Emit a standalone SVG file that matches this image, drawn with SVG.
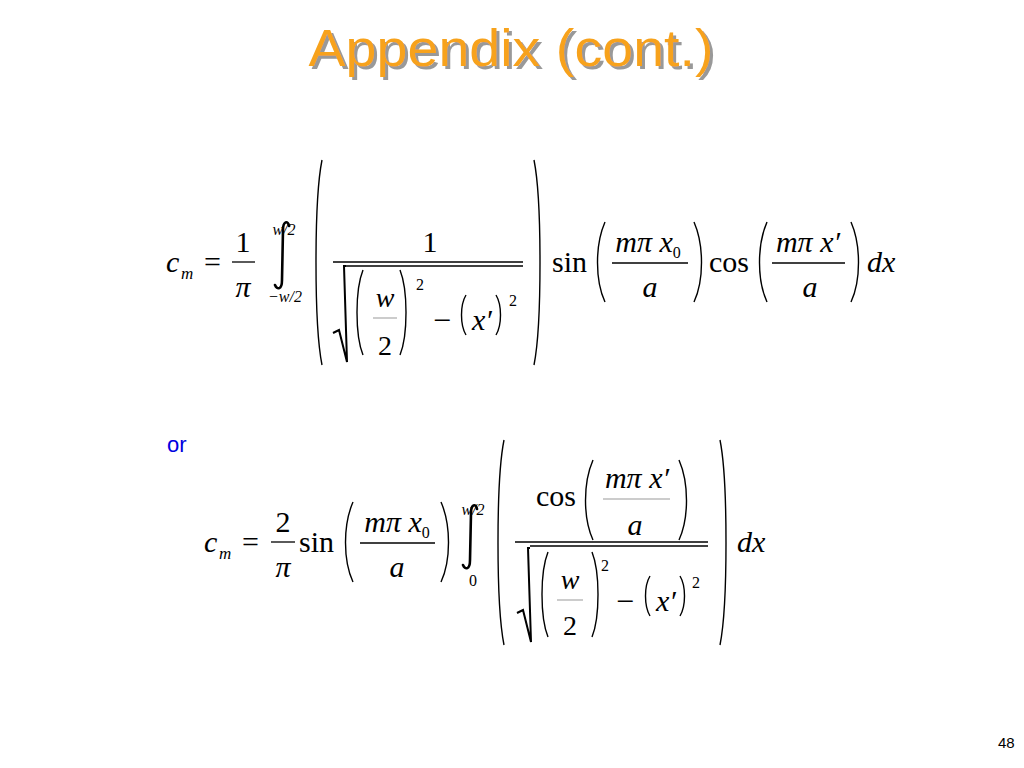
<svg xmlns="http://www.w3.org/2000/svg" width="1024" height="768" viewBox="0 0 1024 768">
<defs>
<filter id="sh" x="-5%" y="-20%" width="110%" height="140%"><feDropShadow dx="3" dy="3" stdDeviation="0.5" flood-color="#999" flood-opacity="1"/></filter>
</defs>
<style>
.m{font-family:"Liberation Serif",serif;fill:#000}
.i{font-style:italic}
.p{fill:none;stroke:#000;stroke-width:1.4}
.l{stroke:#000;stroke-width:1.3}
.int{fill:none;stroke:#000;stroke-width:2.6;stroke-linecap:round}
</style>
<rect width="1024" height="768" fill="#fff"/>
<g id="title">
<text x="511" y="66" text-anchor="middle" font-family="Liberation Sans,sans-serif" font-size="52" fill="#F7A21B" filter="url(#sh)" textLength="405" lengthAdjust="spacingAndGlyphs">Appendix (cont.)</text>
</g>
<g id="eq1">
<text class="m i" x="166" y="272" font-size="30">c</text>
<text class="m i" x="181" y="279" font-size="17">m</text>
<text class="m" x="204" y="272" font-size="30">=</text>
<text class="m" x="243" y="252" font-size="30" text-anchor="middle">1</text>
<line class="l" x1="232" y1="262" x2="255" y2="262"/>
<text class="m i" x="243" y="297" font-size="30" text-anchor="middle">π</text>
<path class="int" d="M289 226 C288 220 283 221 283 230 L282 280 C282 290 277 290 275 285"/>
<text class="m i" x="284" y="235" font-size="16" text-anchor="middle">w/2</text>
<text class="m i" x="285" y="302" font-size="16" text-anchor="middle">−w/2</text>
<path class="p" d="M322 160 C314 200 314 325 322 365"/>
<path class="p" d="M534 160 C542 200 542 325 534 365"/>
<text class="m" x="430" y="252" font-size="30" text-anchor="middle">1</text>
<line class="l" x1="333" y1="262" x2="523" y2="262"/>
<line class="l" x1="345" y1="266" x2="523" y2="266"/>
<path d="M333 333 L339 330 L347 362 L344 266 L346 266" fill="none" stroke="#000" stroke-width="2"/>
<path class="p" d="M363 270 C355 290 355 335 363 355"/>
<path class="p" d="M400 270 C408 290 408 335 400 355"/>
<text class="m i" x="385" y="307" font-size="28" text-anchor="middle">w</text>
<line x1="373" y1="318" x2="397" y2="318" stroke="#999" stroke-width="1"/>
<text class="m" x="385" y="355" font-size="28" text-anchor="middle">2</text>
<text class="m" x="416" y="290" font-size="16">2</text>
<text class="m" x="433" y="331" font-size="32">−</text>
<path class="p" d="M466 295 C460 305 460 325 466 335"/>
<text class="m i" x="472" y="330" font-size="30">x′</text>
<path class="p" d="M496 295 C502 305 502 325 496 335"/>
<text class="m" x="509" y="306" font-size="16">2</text>
<text class="m" x="552" y="272" font-size="30">sin</text>
<path class="p" d="M605 222 C595 245 595 280 605 302"/>
<text class="m i" x="648" y="252" font-size="30" text-anchor="middle">mπ x<tspan font-size="16" dy="6" font-style="normal">0</tspan></text>
<line class="l" x1="612" y1="263" x2="688" y2="263"/>
<text class="m i" x="650" y="297" font-size="30" text-anchor="middle">a</text>
<path class="p" d="M694 222 C704 245 704 280 694 302"/>
<text class="m" x="709" y="272" font-size="30">cos</text>
<path class="p" d="M767 222 C757 245 757 280 767 302"/>
<text class="m i" x="808" y="252" font-size="30" text-anchor="middle">mπ x′</text>
<line class="l" x1="772" y1="263" x2="845" y2="263"/>
<text class="m i" x="810" y="297" font-size="30" text-anchor="middle">a</text>
<path class="p" d="M851 222 C861 245 861 280 851 302"/>
<text class="m i" x="867" y="272" font-size="30">dx</text>
</g>
<g id="or"><text x="167" y="452" font-family="Liberation Sans,sans-serif" font-size="22" fill="#0000E0">or</text></g>
<g id="eq2">
<text class="m i" x="204" y="552" font-size="30">c</text>
<text class="m i" x="219" y="559" font-size="17">m</text>
<text class="m" x="242" y="552" font-size="30">=</text>
<text class="m" x="283" y="532" font-size="30" text-anchor="middle">2</text>
<line class="l" x1="271" y1="542" x2="295" y2="542"/>
<text class="m i" x="283" y="577" font-size="30" text-anchor="middle">π</text>
<text class="m" x="299" y="552" font-size="30">sin</text>
<path class="p" d="M353 502 C343 525 343 560 353 582"/>
<text class="m i" x="397" y="532" font-size="30" text-anchor="middle">mπ x<tspan font-size="16" dy="6" font-style="normal">0</tspan></text>
<line class="l" x1="360" y1="543" x2="435" y2="543"/>
<text class="m i" x="397" y="577" font-size="30" text-anchor="middle">a</text>
<path class="p" d="M441 502 C451 525 451 560 441 582"/>
<path class="int" d="M477 509 C476 503 471 504 471 513 L470 560 C470 570 465 570 463 565"/>
<text class="m i" x="473" y="515" font-size="16" text-anchor="middle">w/2</text>
<text class="m" x="473" y="586" font-size="16" text-anchor="middle">0</text>
<path class="p" d="M504 440 C496 480 496 605 504 645"/>
<path class="p" d="M720 440 C728 480 728 605 720 645"/>
<text class="m" x="536" y="506" font-size="30">cos</text>
<path class="p" d="M593 460 C583 483 583 518 593 540"/>
<text class="m i" x="637" y="488" font-size="30" text-anchor="middle">mπ x′</text>
<line x1="603" y1="499" x2="670" y2="499" stroke="#999" stroke-width="1.2"/>
<text class="m i" x="635" y="535" font-size="30" text-anchor="middle">a</text>
<path class="p" d="M679 460 C689 483 689 518 679 540"/>
<line class="l" x1="515" y1="542" x2="708" y2="542"/>
<line class="l" x1="530" y1="546" x2="708" y2="546"/>
<path d="M517 613 L523 610 L531 642 L528 548 L530 548" fill="none" stroke="#000" stroke-width="2"/>
<path class="p" d="M548 552 C540 572 540 617 548 637"/>
<path class="p" d="M592 552 C600 572 600 617 592 637"/>
<text class="m i" x="570" y="589" font-size="28" text-anchor="middle">w</text>
<line x1="557" y1="600" x2="583" y2="600" stroke="#999" stroke-width="1"/>
<text class="m" x="570" y="635" font-size="28" text-anchor="middle">2</text>
<text class="m" x="601" y="571" font-size="16">2</text>
<text class="m" x="616" y="612" font-size="32">−</text>
<path class="p" d="M650 576 C644 586 644 606 650 616"/>
<text class="m i" x="656" y="611" font-size="30">x′</text>
<path class="p" d="M680 576 C686 586 686 606 680 616"/>
<text class="m" x="692" y="588" font-size="16">2</text>
<text class="m i" x="737" y="552" font-size="30">dx</text>
</g>
<g id="page"><text x="998" y="748" font-family="Liberation Sans,sans-serif" font-size="15" fill="#000">48</text></g>
</svg>
